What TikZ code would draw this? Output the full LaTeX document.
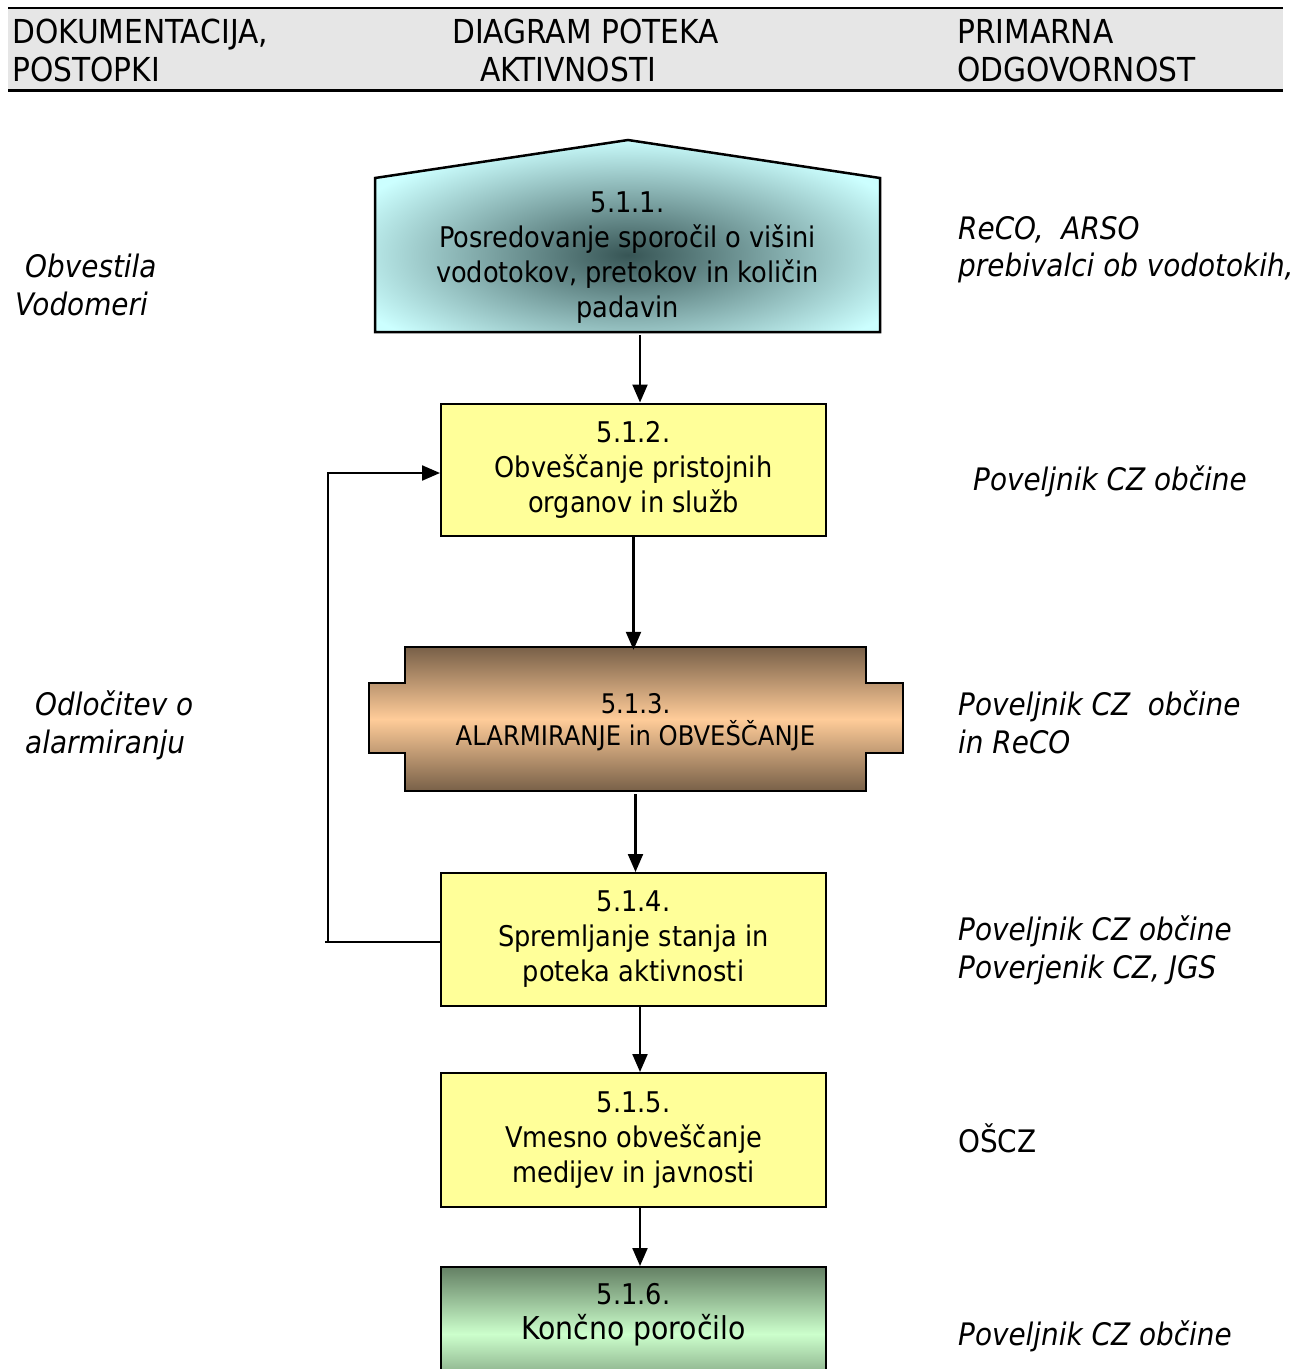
\documentclass[tikz,border=0pt]{standalone}
\usepackage{fontspec}
\setmainfont{DejaVu Sans Condensed}
\usetikzlibrary{arrows.meta}
\definecolor{hdrgray}{HTML}{E6E6E6}
\definecolor{boxyellow}{HTML}{FFFF99}
\definecolor{boxcyan}{HTML}{CCFFFF}
\definecolor{cyandark}{RGB}{55,85,85}
\definecolor{browndark}{RGB}{120,96,72}
\definecolor{peach}{RGB}{255,204,153}
\definecolor{greendark}{RGB}{100,128,100}
\definecolor{greenlight}{RGB}{204,255,204}
\tikzset{
  boxtext/.style={align=center,font=\fontsize{28.5}{35}\selectfont,inner sep=0pt},
  ybox/.style={boxtext,draw=black,line width=2pt,fill=boxyellow,minimum width=385pt,minimum height=132pt},
  arr/.style={line width=2.2pt,-{Triangle[length=18pt,width=15pt]}},
  plainline/.style={line width=2.2pt},
  hdr/.style={anchor=base west,inner sep=0pt,font=\fontsize{33}{38}\selectfont},
  side/.style={anchor=base west,inner sep=0pt,font=\fontsize{31}{38}\selectfont\itshape},
  sideup/.style={anchor=base west,inner sep=0pt,font=\fontsize{31}{38}\selectfont},
}
\begin{document}
\begin{tikzpicture}[x=1pt,y=-1pt]
\useasboundingbox (0,0) rectangle (1305,1369);
\clip (0,0) rectangle (1305,1369);
% header
\fill[hdrgray] (8,8) rectangle (1283,90);
\draw[line width=2pt] (8,8) -- (1283,8);
\draw[line width=3pt] (8,90) -- (1283,90);
\node[hdr] (h1a) at (12,43) {DOKUMENTACIJA,};
\node[hdr] (h1b) at (12,81) {POSTOPKI};
\node[hdr] (h2a) at (452,43) {DIAGRAM POTEKA};
\node[hdr] (h2b) at (480,81) {AKTIVNOSTI};
\node[hdr] (h3a) at (957,43) {PRIMARNA};
\node[hdr] (h3b) at (957,81) {ODGOVORNOST};
% node 1 (pentagon)
\fill[boxcyan] (375,178) -- (628,140) -- (880,178) -- (880,332) -- (375,332) -- cycle;
\begin{scope}
  \clip (375,178) -- (628,140) -- (880,178) -- (880,332) -- (375,332) -- cycle;
  \shade[inner color=cyandark,outer color=boxcyan] (628,255) ellipse [x radius=300pt,y radius=118pt];
\end{scope}
\draw[line width=2.5pt,line join=miter] (375,178) -- (628,140) -- (880,178) -- (880,332) -- (375,332) -- cycle;
\node[boxtext,minimum width=505pt,minimum height=154pt] (n1) at (627.5,258)
  {5.1.1.\\Posredovanje sporočil o višini\\vodotokov, pretokov in količin\\padavin};
% node 2
\node[ybox] (n2) at (633.5,469.5) {5.1.2.\\Obveščanje pristojnih\\organov in služb};
% node 3 (tabbed)
\shade[top color=browndark,bottom color=browndark,middle color=peach]
  (405,647) -- (866,647) -- (866,683) -- (903,683) -- (903,753) -- (866,753) -- (866,791)
  -- (405,791) -- (405,753) -- (369,753) -- (369,683) -- (405,683) -- cycle;
\draw[line width=2pt]
  (405,647) -- (866,647) -- (866,683) -- (903,683) -- (903,753) -- (866,753) -- (866,791)
  -- (405,791) -- (405,753) -- (369,753) -- (369,683) -- (405,683) -- cycle;
\node[boxtext,font=\fontsize{27}{32}\selectfont,minimum width=461pt,minimum height=144pt] (n3) at (635.5,722)
  {5.1.3.\\ALARMIRANJE in OBVEŠČANJE};
% node 4, 5
\node[ybox,minimum height=133pt] (n4) at (633.5,939.5) {5.1.4.\\Spremljanje stanja in\\poteka aktivnosti};
\node[ybox,minimum height=134pt] (n5) at (633.5,1140) {5.1.5.\\Vmesno obveščanje\\medijev in javnosti};
% node 6
\node[draw=black,line width=2pt,top color=greendark,bottom color=greendark,middle color=greenlight,
  minimum width=385pt,minimum height=134pt,inner sep=0pt] (n6) at (633.5,1334) {};
\node[boxtext] (n6t) at (633.5,1315) {5.1.6.\\{\fontsize{31.5}{35}\selectfont Končno poročilo}};
% connectors
\draw[arr] ([xshift=12.5pt]n1.south) -- ([xshift=12.5pt]n1.south |- n2.north);
\draw[arr] (n2.south) -- (n2.south |- n3.north);
\draw[arr] (n3.south) -- (n3.south |- n4.north);
\draw[arr] ([xshift=6.5pt]n4.south) -- ([xshift=6.5pt]n4.south |- n5.north);
\draw[arr] ([xshift=6.5pt]n5.south) -- ([xshift=6.5pt]n5.south |- n6.north);
\coordinate (fb) at (328,0);
\draw[plainline] ([yshift=-2.5pt]n4.west) -- ([xshift=-3pt,yshift=-2.5pt]fb |- n4.west);
\draw[arr] ([yshift=-2.5pt]fb |- n4.west) |- ([yshift=-3.5pt]n2.west);
% side texts
\node[side] (l1) at (25,277) {Obvestila};
\node[side] (l2) at (15,315) {Vodomeri};
\node[side] (l3) at (35,715) {Odločitev o};
\node[side] (l4) at (25,753) {alarmiranju};
\node[side] (r1) at (958,239) {ReCO,\ \ ARSO};
\node[side] (r2) at (958,276) {prebivalci ob vodotokih,};
\node[side] (r3) at (973,490) {Poveljnik CZ občine};
\node[side] (r4) at (958,715) {Poveljnik CZ\ \ občine};
\node[side] (r5) at (958,753) {in ReCO};
\node[side] (r6) at (958,940) {Poveljnik CZ občine};
\node[side] (r7) at (958,978) {Poverjenik CZ, JGS};
\node[sideup] (r8) at (958,1152) {OŠCZ};
\node[side] (r9) at (958,1345) {Poveljnik CZ občine};
\end{tikzpicture}
\end{document}
